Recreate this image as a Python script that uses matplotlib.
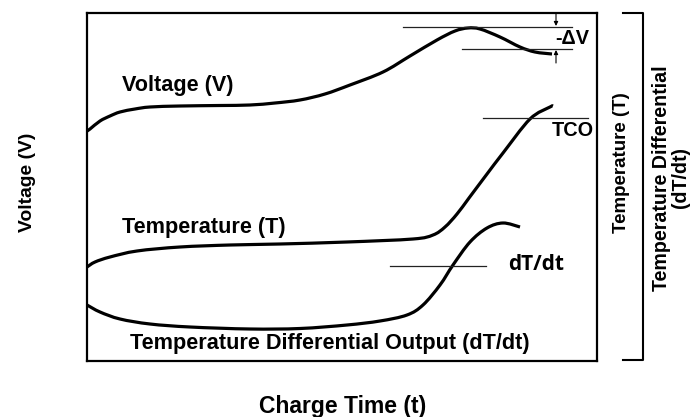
import matplotlib
matplotlib.use("Agg")
import matplotlib.pyplot as plt
from matplotlib.path import Path
from matplotlib.patches import PathPatch

plt.rcParams['font.family'] = ['Liberation Sans', 'DejaVu Sans']

# Curves (x: charge time units, y: arbitrary level)
volt_x = [0, 3, 13, 23, 33, 48, 63, 93, 133, 163, 188, 213, 238, 263, 296, 323, 350, 368, 381, 393, 413, 433, 448, 465]
volt_y = [230, 232, 240, 245, 249, 252, 254, 255, 255.5, 256, 258, 261, 267, 276, 289, 305, 321, 330, 333, 332, 324, 314, 309, 307]

temp_x = [0, 8, 23, 50, 93, 143, 193, 260, 326, 346, 358, 370, 382, 400, 416, 443, 463, 466]
temp_y = [94, 99, 104, 110, 114, 116, 117, 119, 122, 126, 134, 147, 163, 187, 208, 242, 254, 255]

dtdt_x = [0, 13, 33, 63, 103, 163, 213, 260, 293, 320, 336, 353, 366, 383, 400, 416, 433]
dtdt_y = [56, 49, 42, 37, 34, 32, 32.5, 36, 40, 46, 56, 76, 96, 119, 133, 138, 134]

# Reference levels
dv_top = (316, 485, 334)
dv_bot = (375, 485, 312)
tco_line = (396, 501, 243)
dtdt_line = (303, 399, 95)


def smooth_path(xs, ys):
    """Catmull-Rom curve through the given points as a Bezier path."""
    pts = list(zip(xs, ys))
    n = len(pts)
    verts = [pts[0]]
    codes = [Path.MOVETO]
    for i in range(n - 1):
        p0 = pts[i - 1] if i > 0 else pts[i]
        p1 = pts[i]
        p2 = pts[i + 1]
        p3 = pts[i + 2] if i + 2 < n else pts[i + 1]
        c1 = (p1[0] + (p2[0] - p0[0]) / 6, p1[1] + (p2[1] - p0[1]) / 6)
        c2 = (p2[0] - (p3[0] - p1[0]) / 6, p2[1] - (p3[1] - p1[1]) / 6)
        verts += [c1, c2, p2]
        codes += [Path.CURVE4] * 3
    return Path(verts, codes)


W, H = 699, 417
fig = plt.figure(figsize=(W / 100, H / 100), dpi=100)
ax = fig.add_axes([87 / W, (H - 361) / H, 510 / W, 348 / H])
ax.set_xlim(0, 510)
ax.set_ylim(0, 348)
ax.set_xticks([])
ax.set_yticks([])
for s in ax.spines.values():
    s.set_linewidth(1.6)

lw = 2.3
for xs, ys in [(volt_x, volt_y), (temp_x, temp_y), (dtdt_x, dtdt_y)]:
    ax.add_patch(PathPatch(smooth_path(xs, ys), fill=False, edgecolor='black',
                           lw=lw, capstyle='butt'))

for (x0, x1, y) in [dv_top, dv_bot, tco_line, dtdt_line]:
    ax.plot([x0, x1], [y, y], color='#222222', lw=0.9)

# Delta V arrows
ax.annotate('', xy=(469, 335), xytext=(469, 348),
            arrowprops=dict(arrowstyle='-|>', color='black', lw=0.8,
                            mutation_scale=6, shrinkA=0, shrinkB=0),
            annotation_clip=False)
ax.annotate('', xy=(469, 311), xytext=(469, 298),
            arrowprops=dict(arrowstyle='-|>', color='black', lw=0.8,
                            mutation_scale=6, shrinkA=0, shrinkB=0),
            annotation_clip=False)

fs = 15.6
ax.text(468, 323, '-\u0394V', fontsize=14.3, fontweight='bold', ha='left', va='center')
ax.text(465, 231, 'TCO', fontsize=14.3, fontweight='bold', ha='left', va='center')
ax.text(421, 96, 'dT/dt', fontsize=15, fontweight='bold', ha='left', va='center',
        family=['Open Sans', 'DejaVu Sans'])
ax.text(35, 276, 'Voltage (V)', fontsize=fs, fontweight='bold', ha='left', va='center')
ax.text(35, 133, 'Temperature (T)', fontsize=fs, fontweight='bold', ha='left', va='center')
ax.text(43, 17, 'Temperature Differential Output (dT/dt)', fontsize=fs, fontweight='bold',
        ha='left', va='center')

# Outer labels
fig.text(28 / W, 1 - 182 / H, 'Voltage (V)', rotation=90, fontsize=13.9, fontweight='bold',
         ha='center', va='center')
fig.text(343 / W, 1 - 407 / H, 'Charge Time (t)', fontsize=16.5, fontweight='bold',
         ha='center', va='center')
fig.text(622 / W, 1 - 163 / H, 'Temperature (T)', rotation=90, fontsize=13.5, fontweight='bold',
         ha='center', va='center')
fig.text(671 / W, 1 - 178 / H, 'Temperature Differential\n(dT/dt)', rotation=90, fontsize=14.1,
         fontweight='bold', ha='center', va='center', multialignment='center', linespacing=1.05)

# Right bracket
fig.add_artist(plt.Line2D([623 / W, 643 / W, 643 / W, 623 / W],
                          [1 - 13 / H, 1 - 13 / H, 1 - 360 / H, 1 - 360 / H],
                          color='black', lw=1.5, transform=fig.transFigure))

fig.savefig('out.png', dpi=100)
